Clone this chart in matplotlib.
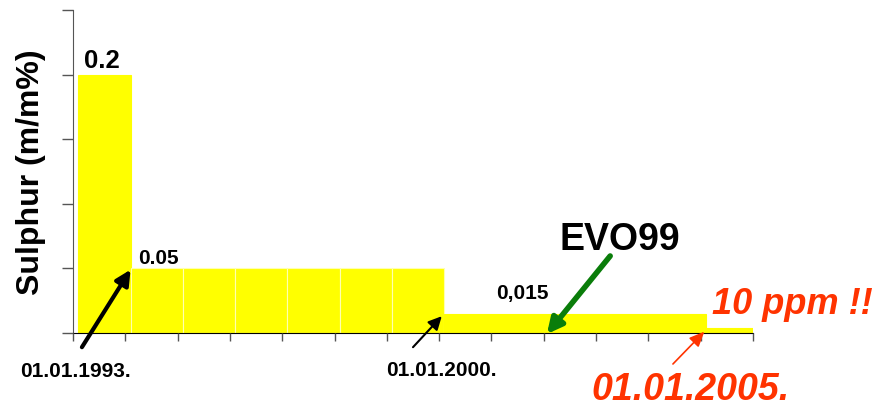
import numpy as np
import matplotlib.pyplot as plt

plt.rcParams['font.family'] = ['Liberation Sans', 'DejaVu Sans']

# one bar per year, 1993 .. 2005 (sulphur limit in m/m%)
years = list(range(1993, 2006))
sulphur = [0.2, 0.05, 0.05, 0.05, 0.05, 0.05, 0.05,
           0.015, 0.015, 0.015, 0.015, 0.015, 0.004]
value_labels = {0: "0.2", 1: "0.05", 8: "0,015"}

RED = "#ff3300"
GREEN = "#0a7d0a"

fig = plt.figure(figsize=(8.82, 4.10), dpi=100)
ax = fig.add_axes([0.0828, 0.1854, 0.7709, 0.7878])

# bars sit slightly right of the tick marks, as in the original slide
x = np.arange(len(years)) + 0.1
edges = ['#ffffb0' if v == 0.05 else '#ffff00' for v in sulphur]
ax.bar(x, sulphur, width=1.0, align='edge', color='#ffff00',
       edgecolor=edges, linewidth=0.8)

ax.set_xlim(0, len(years))
ax.set_ylim(0, 0.25)
ax.set_yticks(np.arange(0, 0.26, 0.05))
ax.set_yticklabels([])
ax.set_xticks(np.arange(len(years) + 1))
ax.set_xticklabels([])
ax.tick_params(axis='y', direction='out', length=8, width=1, color='#555555')
ax.tick_params(axis='x', direction='out', length=6, width=1, color='#555555')
ax.spines['top'].set_visible(False)
ax.spines['right'].set_visible(False)
ax.spines['left'].set_color('#555555')
ax.spines['bottom'].set_color('black')
ax.set_axisbelow(False)

ax.set_ylabel("Sulphur (m/m%)", fontsize=23, fontweight='bold', labelpad=8)

# value labels
ax.text(x[0] + 0.45, sulphur[0] + 0.002, value_labels[0], ha='center',
        va='bottom', fontsize=18.5, fontweight='bold')
ax.text(x[1] + 0.15, sulphur[1] + 0.001, value_labels[1], ha='left',
        va='bottom', fontsize=15, fontweight='bold')
ax.text(x[8] + 0.5, sulphur[8] + 0.009, value_labels[8], ha='center',
        va='bottom', fontsize=15, fontweight='bold')

# dates and remarks
ax.text(0.05, -0.029, "01.01.1993.", ha='center', va='center', fontsize=15,
        fontweight='bold', clip_on=False)
ax.text(7.05, -0.028, "01.01.2000.", ha='center', va='center', fontsize=15,
        fontweight='bold', clip_on=False)
ax.text(10.45, 0.073, "EVO99", ha='center', va='center', fontsize=27,
        fontweight='bold', clip_on=False)
ax.text(11.8, -0.043, "01.01.2005.", ha='center', va='center', fontsize=27,
        fontweight='bold', style='italic', color=RED, clip_on=False)
ax.text(13.76, 0.023, "10 ppm !!", ha='center', va='center', fontsize=26,
        fontweight='bold', style='italic', color=RED, clip_on=False)

# arrows
def arrow(tail, head, color, lw, hl, hw):
    ax.annotate("", xy=head, xytext=tail, annotation_clip=False,
                arrowprops=dict(arrowstyle='-|>,head_length=%s,head_width=%s'
                                % (hl, hw), color=color, lw=lw,
                                shrinkA=0, shrinkB=0))

arrow((0.17, -0.011), (1.1, 0.049), 'black', 3.0, 0.9, 0.45)
arrow((6.5, -0.011), (7.05, 0.013), 'black', 1.5, 0.8, 0.4)
arrow((10.27, 0.0596), (9.06, -0.0008), GREEN, 4.0, 0.9, 0.45)
arrow((11.47, -0.024), (12.07, 0.001), RED, 1.2, 0.9, 0.4)

fig.savefig("out.png", dpi=100)
